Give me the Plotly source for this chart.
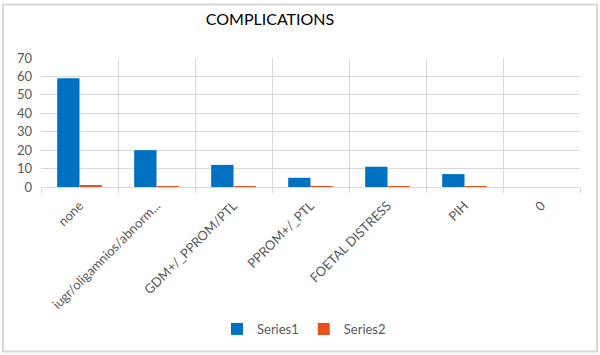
import plotly.graph_objects as go

categories = ["none", "iugr/oligamnios/abnorm...", "GDM+/_PPROM/PTL", "PPROM+/_PTL",
              "FOETAL DISTRESS", "PIH", "0"]
series1 = [59, 20, 12, 5, 11, 7, 0]
series2 = [0.59, 0.20, 0.12, 0.05, 0.11, 0.07, 0]
y_ticks = [0, 10, 20, 30, 40, 50, 60, 70]

FONT = "Lato, 'Open Sans', sans-serif"
GRID = "#d9d9d9"
TXT = "#595959"

fig = go.Figure()
fig.add_trace(go.Bar(x=categories, y=series1, name="Series1", marker_color="#0070C0",
                     marker_line_width=0))
fig.add_trace(go.Bar(x=categories, y=series2, name="Series2", marker_color="#E8501F",
                     marker_line_width=0))

L, R, T, B = 41, 20, 58, 168
H = 355 - T - B
W = 600 - L - R

fig.update_layout(
    width=600, height=355,
    margin=dict(l=L, r=R, t=T, b=B, pad=0, autoexpand=False),
    paper_bgcolor="white", plot_bgcolor="white",
    barmode="group", bargap=0.42, bargroupgap=0,
    title=dict(text="COMPLICATIONS", x=270 / 600, xanchor="center",
               y=1 - 19 / 355, yanchor="middle", yref="container",
               font=dict(family=FONT, size=16, color="#000000")),
    font=dict(family=FONT, size=12, color=TXT),
    legend=dict(orientation="h", x=(304 - L) / W, xanchor="center",
                y=(355 - B - 329) / H, yanchor="middle",
                font=dict(family=FONT, size=13, color=TXT),
                itemwidth=30, traceorder="normal"),
    showlegend=True,
)
fig.update_xaxes(type="category", tickson="boundaries", showgrid=True, gridcolor=GRID,
                 gridwidth=1, ticks="outside", ticklen=5, tickcolor=GRID,
                 showline=True, linecolor=GRID, linewidth=1, mirror=False,
                 tickangle=-45, tickfont=dict(family=FONT, size=13, color=TXT),
                 ticklabelstandoff=5,
                 zeroline=False, automargin=False)
fig.update_yaxes(range=[0, 70], tickvals=y_ticks, showgrid=True, gridcolor=GRID,
                 gridwidth=1, zeroline=False, showline=False,
                 ticks="", ticklabelstandoff=8, automargin=False,
                 tickfont=dict(family=FONT, size=13, color=TXT))

# outer chart frame
fig.add_shape(type="rect", xref="paper", yref="paper",
              x0=(3 - L) / W, x1=(597 - L) / W,
              y0=(355 - B - 351.5) / H, y1=(355 - B - 4.5) / H,
              line=dict(color="#d9d9d9", width=2), fillcolor="rgba(0,0,0,0)", layer="below")

fig.write_html("out.html", config={"displayModeBar": False},
               post_script="document.body.style.margin='0';document.body.style.overflow='hidden';")
